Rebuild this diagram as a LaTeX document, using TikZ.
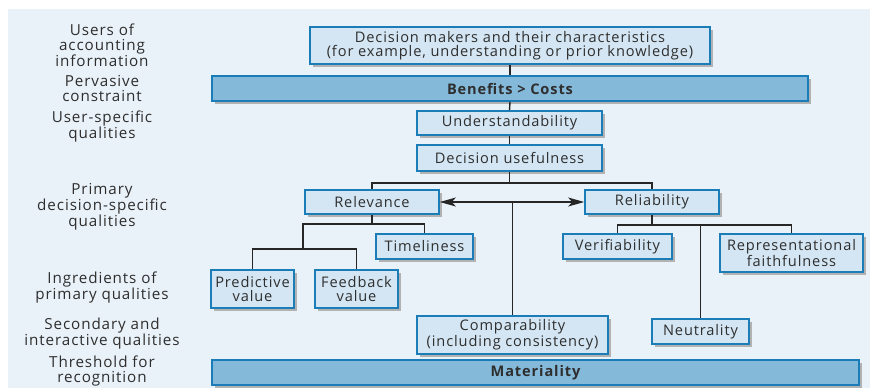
\documentclass[tikz,border=0pt]{standalone}
\usepackage{fontspec}
\setmainfont[LetterSpace=6]{Open Sans}
\usetikzlibrary{shadows,arrows.meta}
\definecolor{panel}{HTML}{EAF2F9}
\definecolor{boxfill}{HTML}{D4E6F3}
\definecolor{boxline}{HTML}{1B7DB8}
\definecolor{barfill}{HTML}{84B9DA}
\definecolor{ink}{HTML}{2E2E2E}
\tikzset{
        qual/.style={draw=boxline, line width=1.6pt, fill=boxfill, text=ink, align=center,
            inner sep=0pt, font=\fontsize{14.6}{14.5}\selectfont,
            drop shadow={shadow xshift=2.5pt, shadow yshift=-2.5pt, fill=black!30, opacity=1}},
        bar/.style={qual, fill=barfill, font=\fontsize{14.6}{14.5}\selectfont\bfseries},
        tag/.style={text=ink, align=center, font=\fontsize{15.2}{15}\selectfont},
        link/.style={line width=1.4pt, draw=black!85},
        both/.style={link, {Stealth[length=16pt,width=9pt,inset=4pt]}-{Stealth[length=16pt,width=9pt,inset=4pt]}}
}
\begin{document}
\begin{tikzpicture}[x=1pt, y=-1pt]
        \useasboundingbox (0,0) rectangle (870,388);
        \fill[panel] (8,9) rectangle (870,388);

        % row labels
        \node[tag] (tusers) at (102,45) {Users of\\accounting\\information};
        \node[tag] (tperv) at (102,88) {Pervasive\\constraint};
        \node[tag] (tuser) at (102,126.5) {User-specific\\qualities};
        \node[tag] (tprim) at (102,207) {Primary\\decision-specific\\qualities};
        \node[tag] (tingr) at (102,287.5) {Ingredients of\\primary qualities};
        \node[tag] (tsec) at (102,333.5) {Secondary and\\interactive qualities};
        \node[tag] (tthr) at (102,371.5) {Threshold for\\recognition};

        % boxes
        \node[qual, minimum width=400pt, minimum height=37pt] (dm) at (510,45.5)
            {Decision makers and their characteristics\\(for example, understanding or prior knowledge)};
        \node[bar, minimum width=596pt, minimum height=25pt] (bc) at (510,88.5) {Benefits > Costs};
        \node[qual, minimum width=185pt, minimum height=24pt] (und) at (509.5,123) {Understandability};
        \node[qual, minimum width=185pt, minimum height=26pt] (du) at (509.5,158) {Decision usefulness};
        \node[qual, minimum width=134pt, minimum height=24pt] (rel) at (372,202) {Relevance};
        \node[qual, minimum width=134pt, minimum height=24pt] (reli) at (652,202) {Reliability};
        \node[qual, minimum width=97pt, minimum height=25pt] (tim) at (424.5,246.5) {Timeliness};
        \node[qual, minimum width=83pt, minimum height=38pt] (pred) at (252.5,289) {Predictive\\value};
        \node[qual, minimum width=83pt, minimum height=38pt] (feed) at (356.5,289) {Feedback\\value};
        \node[qual, minimum width=109pt, minimum height=25pt] (ver) at (617.5,246.5) {Verifiability};
        \node[qual, minimum width=143pt, minimum height=38pt] (rep) at (791.5,253) {Representational\\faithfulness};
        \node[qual, minimum width=191pt, minimum height=38pt] (comp) at (512.5,335) {Comparability\\(including consistency)};
        \node[qual, minimum width=97pt, minimum height=25pt] (neu) at (700.5,331.5) {Neutrality};
        \node[bar, minimum width=647pt, minimum height=25pt] (mat) at (535.5,372.5) {Materiality};

        % connectors
        \draw[link] (dm.south) -- (bc.north);
        \draw[link] (bc.south) -- (und.north);
        \draw[link] (und.south) -- (du.north);
        \draw[link] (du.south) -- ++(0,11) coordinate (duj);
        \draw[link] (rel.north) |- (duj) -| (reli.north);
        \draw[both] (rel.east) -- (reli.west);
        \draw[link] (comp.north) -- (comp.north |- rel.east);

        \draw[link] (rel.south) -- ++(0,9) coordinate (relj);
        \coordinate (ingj) at (303,249);
        \draw[link] (tim.north) |- (ingj |- relj) -- (ingj);
        \draw[link] (pred.north) |- (ingj) -| (feed.north);

        \draw[link] (reli.south) -- ++(0,10) coordinate (reij);
        \draw[link] (ver.north) |- (reij) -| (rep.north);
        \draw[link] (neu.north) -- (neu.north |- reij);
\end{tikzpicture}
\end{document}
